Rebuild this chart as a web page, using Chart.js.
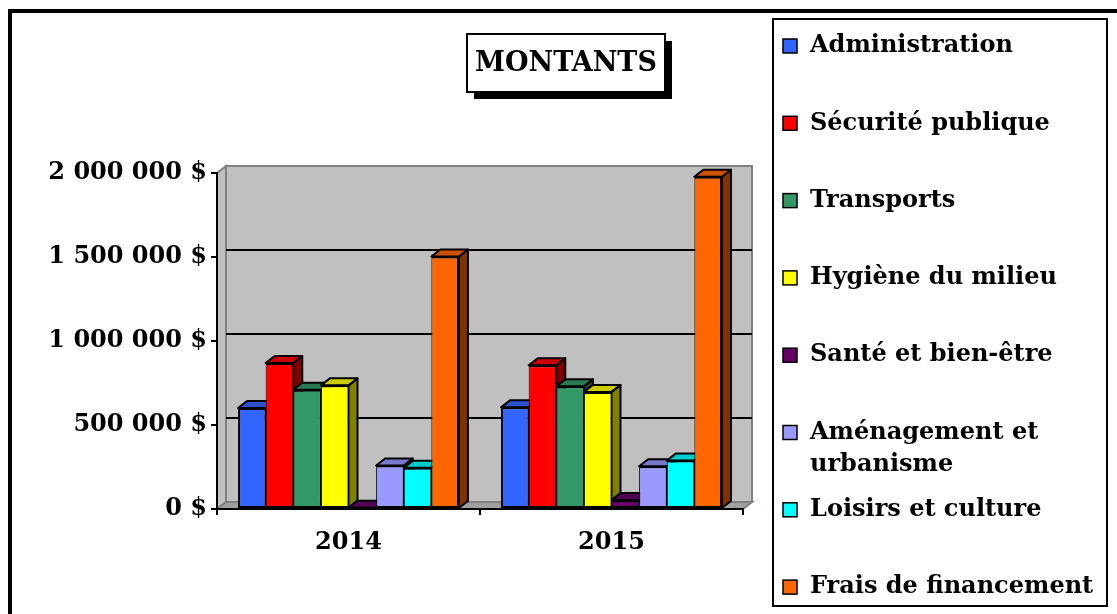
<!DOCTYPE html>
<html><head><meta charset="utf-8">
<script src="https://cdn.jsdelivr.net/npm/chart.js@4/dist/chart.umd.min.js"></script>
<style>
html,body{margin:0;padding:0;background:#fff;}
#wrap{position:relative;width:1117px;height:614px;overflow:hidden;background:#fff;}
#frame{position:absolute;left:8px;top:9px;width:1300px;height:800px;border-left:4px solid #000;border-top:4px solid #000;}
#c{position:absolute;left:0;top:0;}
</style></head><body>
<div id="wrap"><div id="frame"></div><canvas id="c" width="1117" height="614"></canvas></div>
<script>
const categories = ['2014', '2015'];
const seriesNames = ['Administration', 'Sécurité publique', 'Transports', 'Hygiène du milieu',
  'Santé et bien-être', 'Aménagement et urbanisme', 'Loisirs et culture', 'Frais de financement'];
const administration = [601000, 605000];
const securitePublique = [869000, 855000];
const transports = [710000, 730000];
const hygieneMilieu = [736000, 697000];
const santeBienEtre = [8000, 54000];
const amenagementUrbanisme = [259000, 254000];
const loisirsCulture = [245000, 288000];
const fraisFinancement = [1503000, 1978000];
const yTickLabels = ['0 $', '500 000 $', '1 000 000 $', '1 500 000 $', '2 000 000 $'];
const chartTitle = 'MONTANTS';

const seriesValues = [administration, securitePublique, transports, hygieneMilieu,
  santeBienEtre, amenagementUrbanisme, loisirsCulture, fraisFinancement];
const frontColors = ['#3366FF', '#FF0000', '#339966', '#FFFF00', '#660066', '#9999FF', '#00FFFF', '#FF6600'];
const topColors   = ['#2952CC', '#CC0000', '#297A52', '#CCCC00', '#520052', '#7A7ACC', '#00CCCC', '#CC5200'];
const sideColors  = ['#1A3380', '#800000', '#1A4D33', '#808000', '#330033', '#4D4D80', '#008080', '#803300'];

const FONT = 'DejaVu Serif';
const DX = 9, DY = -7;

function poly(ctx, pts, fill, stroke, lw) {
  ctx.beginPath();
  ctx.moveTo(pts[0][0], pts[0][1]);
  for (let i = 1; i < pts.length; i++) ctx.lineTo(pts[i][0], pts[i][1]);
  ctx.closePath();
  if (fill) { ctx.fillStyle = fill; ctx.fill(); }
  if (stroke) { ctx.strokeStyle = stroke; ctx.lineWidth = lw; ctx.stroke(); }
}

const wallPlugin = {
  id: 'wall3d',
  beforeDraw(chart) {
    const {ctx, chartArea: a} = chart;
    const y = chart.scales.y;
    ctx.save();
    ctx.lineJoin = 'miter';
    poly(ctx, [[a.left + DX, a.top + DY], [a.right + DX, a.top + DY], [a.right + DX, a.bottom + DY], [a.left + DX, a.bottom + DY]], '#C0C0C0', '#808080', 2);
    poly(ctx, [[a.left, a.top], [a.left + DX, a.top + DY], [a.left + DX, a.bottom + DY], [a.left, a.bottom]], '#C0C0C0', '#808080', 2);
    poly(ctx, [[a.left, a.bottom], [a.right, a.bottom], [a.right + DX, a.bottom + DY], [a.left + DX, a.bottom + DY]], '#A0A0A0', '#808080', 2);
    ctx.strokeStyle = '#000';
    ctx.lineWidth = 2;
    y.ticks.forEach(t => {
      if (t.value <= y.min || t.value >= y.max) return;
      const py = Math.round(y.getPixelForValue(t.value) + DY);
      ctx.beginPath();
      ctx.moveTo(a.left + DX, py);
      ctx.lineTo(a.right + DX, py);
      ctx.stroke();
    });
    ctx.restore();
  },
  beforeDatasetsDraw(chart) {
    const {ctx} = chart;
    const bars = [];
    chart.data.datasets.forEach((ds, di) => {
      const meta = chart.getDatasetMeta(di);
      meta.data.forEach(el => bars.push({el, di}));
    });
    bars.sort((p, q) => p.el.x - q.el.x);
    ctx.save();
    ctx.lineJoin = 'round';
    bars.forEach(({el, di}) => {
      const l = el.x - el.width / 2, r = el.x + el.width / 2, t = el.y, b = el.base;
      poly(ctx, [[r, t], [r + DX, t + DY], [r + DX, b + DY], [r, b]], sideColors[di], '#000', 2);
      poly(ctx, [[l, t], [l + DX, t + DY], [r + DX, t + DY], [r, t]], topColors[di], '#000', 2);
    });
    ctx.restore();
  }
};

const overlayPlugin = {
  id: 'overlay',
  afterDraw(chart) {
    const {ctx} = chart;
    ctx.save();
    const tx = 467, ty = 34, tw = 198, th = 58;
    ctx.fillStyle = '#000';
    ctx.fillRect(tx + 7, ty + 7, tw, th);
    ctx.fillStyle = '#fff';
    ctx.fillRect(tx, ty, tw, th);
    ctx.strokeStyle = '#000';
    ctx.lineWidth = 2;
    ctx.strokeRect(tx, ty, tw, th);
    ctx.fillStyle = '#000';
    ctx.font = 'bold 27px "' + FONT + '"';
    ctx.textAlign = 'center';
    ctx.textBaseline = 'middle';
    ctx.fillText(chartTitle, tx + tw / 2, ty + th / 2 + 1);

    const lx = 773, ly = 19, lw = 334, lh = 587;
    ctx.lineWidth = 2;
    ctx.strokeRect(lx, ly, lw, lh);
    ctx.font = 'bold 24px "' + FONT + '"';
    ctx.textAlign = 'left';
    ctx.textBaseline = 'middle';
    chart.data.datasets.forEach((ds, i) => {
      const yc = 46 + i * 77.3;
      ctx.fillStyle = ds.backgroundColor;
      ctx.fillRect(783, yc - 7, 14, 14);
      ctx.lineWidth = 1.5;
      ctx.strokeStyle = '#000';
      ctx.strokeRect(783, yc - 7, 14, 14);
      ctx.fillStyle = '#000';
      const words = ds.label.split(' ');
      const lines = [];
      let cur = '';
      words.forEach(w => {
        const test = cur ? cur + ' ' + w : w;
        if (ctx.measureText(test).width > 300 && cur) { lines.push(cur); cur = w; } else cur = test;
      });
      lines.push(cur);
      lines.forEach((ln, k) => ctx.fillText(ln, 810, yc + k * 32));
    });
    ctx.restore();
  }
};

const ctx = document.getElementById('c').getContext('2d');
new Chart(ctx, {
  type: 'bar',
  data: {
    labels: categories,
    datasets: seriesNames.map((n, i) => ({
      label: n,
      data: seriesValues[i],
      backgroundColor: frontColors[i],
      borderColor: '#000',
      borderWidth: {top: 2, bottom: 2, left: i === 0 ? 2 : 1, right: i === seriesNames.length - 1 ? 2 : 1},
      borderSkipped: false
    }))
  },
  options: {
    responsive: false,
    animation: false,
    layout: {padding: {top: 173, right: 374, left: 0, bottom: 0}},
    datasets: {bar: {categoryPercentage: 0.84, barPercentage: 1}},
    plugins: {legend: {display: false}, title: {display: false}, tooltip: {enabled: false}},
    scales: {
      x: {
        grid: {display: true, drawOnChartArea: false, drawTicks: true, tickLength: 6, color: '#000', lineWidth: 2, offset: true},
        border: {display: true, color: '#000', width: 2},
        ticks: {font: {family: FONT, size: 24, weight: 'bold'}, color: '#000', padding: 13},
        afterFit(s) { s.height = 105; }
      },
      y: {
        min: 0, max: 2000000,
        ticks: {stepSize: 500000, callback: (v, i) => yTickLabels[i], font: {family: FONT, size: 24, weight: 'bold'}, color: '#000', padding: 4},
        grid: {display: true, drawOnChartArea: false, drawTicks: true, tickLength: 6, color: '#000', lineWidth: 2},
        border: {display: true, color: '#000', width: 2},
        afterFit(s) { s.width = 217; }
      }
    }
  },
  plugins: [wallPlugin, overlayPlugin]
});
</script>
</body></html>
